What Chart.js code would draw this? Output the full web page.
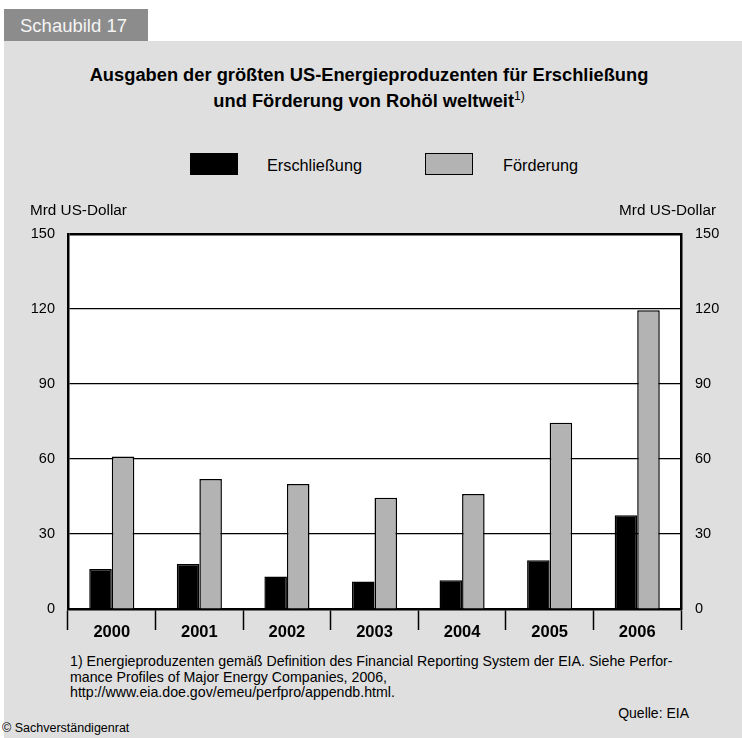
<!DOCTYPE html>
<html>
<head>
<meta charset="utf-8">
<script src="https://cdn.jsdelivr.net/npm/chart.js@4/dist/chart.umd.min.js"></script>
<style>
  body { margin: 0; width: 742px; height: 738px; background: #fff; position: relative; overflow: hidden;
         font-family: "Liberation Sans", Arial, Helvetica, sans-serif; color: #000; }
  #tab { position: absolute; left: 4px; top: 9px; width: 144px; height: 32px; background: #8c8c8c;
         color: #f4f4f4; font-size: 18.5px; line-height: 33px; text-indent: 16px; }
  #panel { position: absolute; left: 4px; top: 41px; right: 0; bottom: 0; background: #dfdfdf; }
  #title { position: absolute; left: 0; width: 738px; top: 62px; text-align: center; font-weight: bold;
           font-size: 18.3px; line-height: 26px; }
  #title sup { font-size: 12px; font-weight: normal; vertical-align: 7px; line-height: 0; }
  #legend { position: absolute; top: 153px; left: 0; width: 742px; height: 24px; }
  .lg-box { position: absolute; width: 46px; height: 20px; border: 1px solid #000; }
  .lg-text { position: absolute; font-size: 16.3px; line-height: 24px; }
  #chart { position: absolute; left: 0; top: 190px; }
  #note { position: absolute; left: 70px; top: 654px; font-size: 14.2px; line-height: 15.5px; }
  #source { position: absolute; right: 53px; top: 705px; font-size: 14px; }
  #copy { position: absolute; left: 2px; top: 721px; font-size: 12.5px; }
</style>
</head>
<body>
<div id="panel"></div>
<div id="tab">Schaubild 17</div>
<div id="title">Ausgaben der größten US-Energieproduzenten für Erschließung<br>und Förderung von Rohöl weltweit<sup>1)</sup></div>
<div id="legend"></div>
<canvas id="chart" width="742" height="460"></canvas>
<div id="note">1) Energieproduzenten gemäß Definition des Financial Reporting System der EIA. Siehe Perfor-<br>mance Profiles of Major Energy Companies, 2006,<br>http://www.eia.doe.gov/emeu/perfpro/appendb.html.</div>
<div id="source">Quelle: EIA</div>
<div id="copy">© Sachverständigenrat</div>
<script>
const years = ['2000', '2001', '2002', '2003', '2004', '2005', '2006'];
const erschliessung = [16, 18, 13, 11, 11.5, 19.5, 37.5];
const foerderung = [61, 52, 50, 44.5, 46, 74.5, 119.5];
const yTicks = [0, 30, 60, 90, 120, 150];
const seriesNames = ['Erschließung', 'Förderung'];
const seriesColors = ['#000000', '#b3b3b3'];
const axisUnit = 'Mrd US-Dollar';

// legend built from the series
const legendPos = [{ box: 190, text: 267 }, { box: 425, text: 503 }];
const legend = document.getElementById('legend');
seriesNames.forEach((name, i) => {
  const box = document.createElement('div');
  box.className = 'lg-box';
  box.style.left = legendPos[i].box + 'px';
  box.style.background = seriesColors[i];
  legend.appendChild(box);
  const txt = document.createElement('div');
  txt.className = 'lg-text';
  txt.style.left = legendPos[i].text + 'px';
  txt.textContent = name;
  legend.appendChild(txt);
});

const plotDecor = {
  id: 'plotDecor',
  beforeDraw(chart) {
    const { ctx, chartArea: a } = chart;
    ctx.save();
    ctx.fillStyle = '#fff';
    ctx.fillRect(a.left, a.top, a.right - a.left, a.bottom - a.top);
    ctx.restore();
  },
  afterDraw(chart) {
    const { ctx, chartArea: a } = chart;
    ctx.save();
    ctx.font = '15.3px "Liberation Sans", Arial, sans-serif';
    ctx.fillStyle = '#000';
    ctx.textBaseline = 'middle';
    ctx.textAlign = 'left';
    ctx.fillText(axisUnit, 30, a.top - 23);
    ctx.textAlign = 'right';
    ctx.fillText(axisUnit, 716, a.top - 23);
    ctx.restore();
  }
};

const tickFont = { family: '"Liberation Sans", Arial, sans-serif', size: 14.5 };

new Chart('chart', {
  type: 'bar',
  data: {
    labels: years,
    datasets: [
      { label: seriesNames[0], data: erschliessung, backgroundColor: seriesColors[0], borderColor: '#000', borderWidth: 1.5 },
      { label: seriesNames[1], data: foerderung, backgroundColor: seriesColors[1], borderColor: '#000', borderWidth: 1.5 }
    ]
  },
  options: {
    responsive: false,
    devicePixelRatio: 1,
    animation: false,
    layout: { padding: { top: 44, left: 0, right: 0, bottom: 0 } },
    plugins: { legend: { display: false }, tooltip: { enabled: false } },
    datasets: { bar: { categoryPercentage: 0.515, barPercentage: 1.0 } },
    scales: {
      x: {
        grid: { offset: true, drawOnChartArea: false, drawTicks: true, tickLength: 21, tickColor: '#000', tickWidth: 1.5 },
        border: { display: true, color: '#000', width: 2.5 },
        ticks: { color: '#000', padding: -7, font: { ...tickFont, size: 16.5, weight: 'bold' } },
        afterFit(scale) { scale.height = 41; }
      },
      y: {
        min: 0, max: 150,
        afterBuildTicks(scale) { scale.ticks = yTicks.map(v => ({ value: v })); },
        grid: {
          color: '#000',
          lineWidth: ctx => (ctx.tick && ctx.tick.value === 150 ? 2.5 : 1.2),
          drawTicks: false
        },
        border: { display: true, color: '#000', width: 2.5 },
        ticks: { color: '#000', padding: 13, font: tickFont },
        afterFit(scale) { scale.width = 68; }
      },
      y2: {
        position: 'right',
        min: 0, max: 150,
        afterBuildTicks(scale) { scale.ticks = yTicks.map(v => ({ value: v })); },
        grid: { drawOnChartArea: false, drawTicks: false },
        border: { display: true, color: '#000', width: 2.5 },
        ticks: { color: '#000', padding: 14, font: tickFont },
        afterFit(scale) { scale.width = 61; }
      }
    }
  },
  plugins: [plotDecor]
});
</script>
</body>
</html>
